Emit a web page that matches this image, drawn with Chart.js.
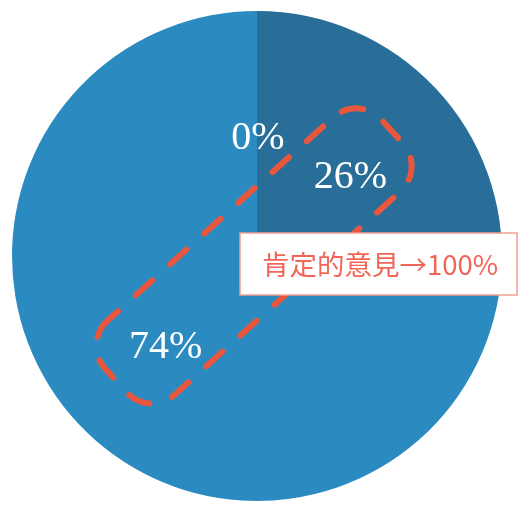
<!DOCTYPE html>
<html>
<head>
<meta charset="utf-8">
<script src="https://cdn.jsdelivr.net/npm/chart.js@4"></script>
<style>
  html, body { margin: 0; padding: 0; background: #fff; }
  #wrap { position: relative; width: 518px; height: 506px; }
</style>
</head>
<body>
<div id="wrap"><canvas id="myChart"></canvas></div>
<script>
// data
const categories = ['否定的意見', '肯定的意見A', '肯定的意見B'];
const shares = [0, 26, 74];
const sliceColors = ['#2b87bb', '#286e98', '#2b8bc1'];
const calloutText = '肯定的意見→100%';

// percent labels inside the slices
const pctLabels = {
    id: 'pctLabels',
    afterDatasetsDraw(chart) {
        const ctx = chart.ctx;
        const meta = chart.getDatasetMeta(0);
        ctx.save();
        ctx.fillStyle = '#ffffff';
        ctx.font = '40px "Liberation Serif", serif';
        ctx.textAlign = 'center';
        ctx.textBaseline = 'middle';
        meta.data.forEach((arc, i) => {
            const p = arc.tooltipPosition();
            const dx = i === 1 ? 4 : (i === 2 ? -2 : 1);
            const dy = i === 2 ? 8 : 5;
            ctx.fillText(shares[i] + '%', p.x + dx, p.y + dy);
        });
        ctx.restore();
    }
};

// dashed rounded frame + callout box
const callout = {
    id: 'callout',
    afterDraw(chart) {
        const ctx = chart.ctx;
        const c = chart.getDatasetMeta(0).data[0];
        const cx = c.x, cy = c.y;

        // dashed frame around 26% and 74%
        ctx.save();
        ctx.translate(cx - 3, cy);
        ctx.rotate(-42 * Math.PI / 180);
        const w = 372, h = 100, r = 34;
        ctx.beginPath();
        ctx.roundRect(-w / 2, -h / 2, w, h, r);
        ctx.strokeStyle = '#e8573d';
        ctx.lineWidth = 6;
        ctx.lineCap = 'round';
        ctx.setLineDash([22, 24]);
        ctx.lineDashOffset = 8;
        ctx.stroke();
        ctx.restore();

        // white box with text
        ctx.save();
        const bx = 240, by = 233, bw = 277, bh = 62;
        ctx.fillStyle = '#ffffff';
        ctx.fillRect(bx, by, bw, bh);
        ctx.strokeStyle = '#f2a093';
        ctx.lineWidth = 1.5;
        ctx.strokeRect(bx, by, bw, bh);
        ctx.fillStyle = '#f2665a';
        ctx.font = '27.5px "Noto Sans CJK JP", sans-serif';
        ctx.textAlign = 'left';
        ctx.textBaseline = 'middle';
        ctx.fillText(calloutText, 262, by + bh / 2 + 1);
        ctx.restore();
    }
};

new Chart(document.getElementById('myChart').getContext('2d'), {
    type: 'pie',
    data: {
        labels: categories,
        datasets: [{
            data: shares,
            backgroundColor: sliceColors,
            borderWidth: 0
        }]
    },
    options: {
        responsive: true,
        maintainAspectRatio: false,
        animation: false,
        layout: { padding: { top: 11, bottom: 5, left: 0, right: 4 } },
        plugins: {
            legend: { display: false },
            tooltip: { enabled: false }
        }
    },
    plugins: [pctLabels, callout]
});
</script>
</body>
</html>
